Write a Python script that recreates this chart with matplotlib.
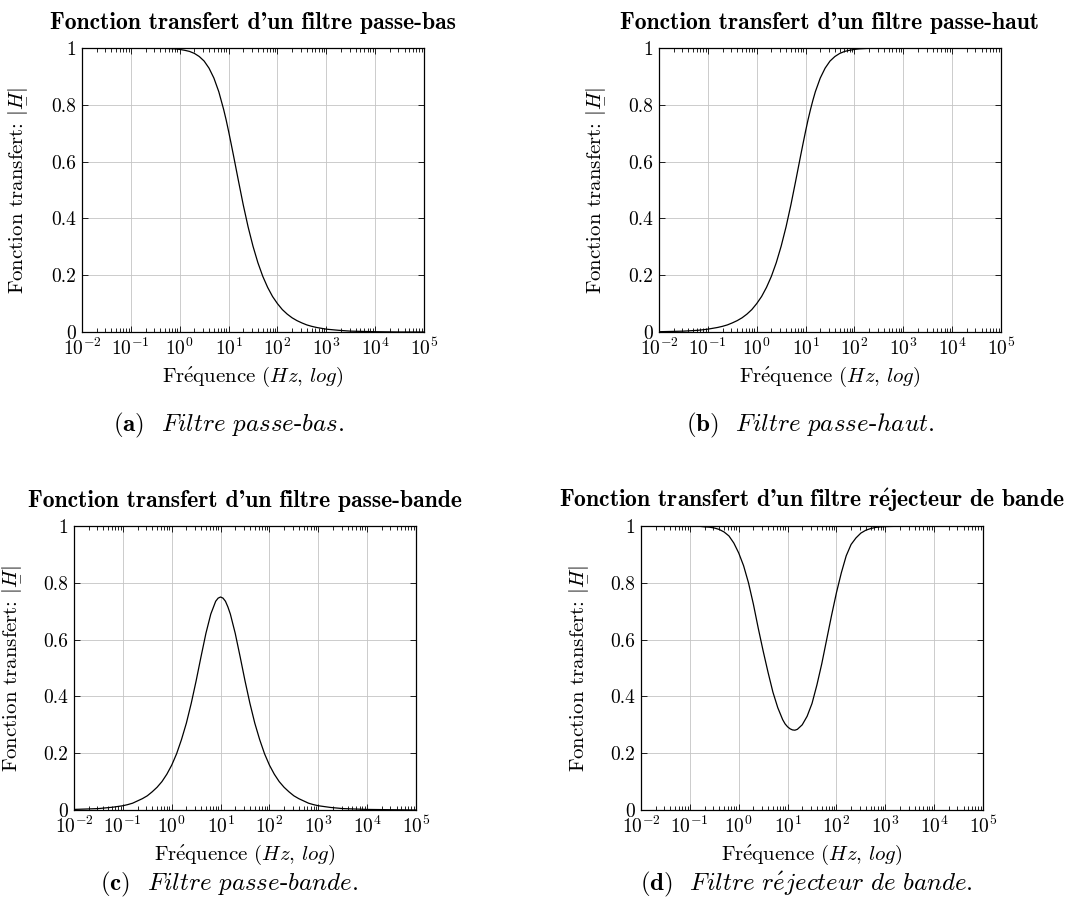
import numpy as np
import matplotlib.pyplot as plt
from matplotlib.ticker import FixedLocator, FixedFormatter, LogLocator, NullFormatter, NullLocator

plt.rcParams['font.family'] = ['cmr10', 'DejaVu Serif']
plt.rcParams['mathtext.fontset'] = 'cm'
plt.rcParams['axes.unicode_minus'] = False
plt.rcParams['axes.formatter.use_mathtext'] = True

# frequences (exposants de 10) et |H|
freq_exp = [-2.0, -1.5, -1.2, -1.0, -0.9, -0.8, -0.7, -0.6, -0.5, -0.4, -0.3, -0.2, -0.1,
            0.0, 0.1, 0.2, 0.3, 0.4, 0.5, 0.6, 0.7, 0.8, 0.9, 0.95,
            1.0, 1.05, 1.1, 1.15, 1.2, 1.3, 1.4, 1.5, 1.6, 1.7, 1.8, 1.9,
            2.0, 2.1, 2.2, 2.3, 2.4, 2.5, 2.6, 2.7, 2.8, 2.9, 3.0, 3.25, 3.5, 4.0, 4.5, 5.0]

h_bas = [1.000, 1.000, 1.000, 1.000, 1.000, 1.000, 1.000, 1.000, 0.999, 0.999, 0.999, 0.998, 0.997,
         0.995, 0.992, 0.988, 0.981, 0.970, 0.954, 0.929, 0.894, 0.846, 0.783, 0.747,
         0.707, 0.665, 0.622, 0.578, 0.534, 0.448, 0.370, 0.302, 0.244, 0.196, 0.157, 0.125,
         0.100, 0.079, 0.063, 0.050, 0.040, 0.032, 0.025, 0.020, 0.016, 0.013, 0.010, 0.006, 0.003, 0.001, 0.000, 0.000]

h_haut = [0.001, 0.003, 0.006, 0.010, 0.013, 0.016, 0.020, 0.025, 0.032, 0.040, 0.050, 0.063, 0.079,
          0.100, 0.125, 0.157, 0.196, 0.244, 0.302, 0.370, 0.448, 0.534, 0.622, 0.665,
          0.707, 0.747, 0.783, 0.816, 0.846, 0.894, 0.929, 0.954, 0.970, 0.981, 0.988, 0.992,
          0.995, 0.997, 0.998, 0.999, 0.999, 0.999, 1.000, 1.000, 1.000, 1.000, 1.000, 1.000, 1.000, 1.000, 1.000, 1.000]

h_bande = [0.002, 0.005, 0.010, 0.015, 0.019, 0.024, 0.032, 0.040, 0.050, 0.064, 0.080, 0.100, 0.126,
           0.158, 0.198, 0.248, 0.306, 0.376, 0.455, 0.540, 0.622, 0.690, 0.735, 0.746,
           0.750, 0.746, 0.735, 0.715, 0.690, 0.622, 0.540, 0.455, 0.376, 0.306, 0.248, 0.198,
           0.158, 0.126, 0.100, 0.080, 0.064, 0.050, 0.040, 0.032, 0.024, 0.019, 0.015, 0.009, 0.005, 0.002, 0.001, 0.000]

h_rejet = [1.000, 1.000, 1.000, 1.000, 0.999, 0.999, 0.997, 0.996, 0.993, 0.988, 0.979, 0.965, 0.940,
           0.905, 0.860, 0.800, 0.725, 0.640, 0.560, 0.485, 0.415, 0.360, 0.318, 0.303,
           0.293, 0.286, 0.282, 0.281, 0.284, 0.300, 0.330, 0.375, 0.440, 0.515, 0.600, 0.685,
           0.765, 0.835, 0.895, 0.935, 0.958, 0.975, 0.985, 0.991, 0.995, 0.997, 0.998, 0.999, 1.000, 1.000, 1.000, 1.000]

titles = ["Fonction transfert d'un filtre passe-bas",
          "Fonction transfert d'un filtre passe-haut",
          "Fonction transfert d'un filtre passe-bande",
          r"Fonction transfert d'un filtre r$\mathbf{\acute{e}}$jecteur de bande"]
captions = [r'$\mathbf{(a)}$  $\mathit{Filtre\ passe}$-$\mathit{bas.}$',
            r'$\mathbf{(b)}$  $\mathit{Filtre\ passe}$-$\mathit{haut.}$',
            r'$\mathbf{(c)}$  $\mathit{Filtre\ passe}$-$\mathit{bande.}$',
            r'$\mathbf{(d)}$  $\mathit{Filtre\ r\acute{e}jecteur\ de\ bande.}$']

x_ticks = [1e-2, 1e-1, 1e0, 1e1, 1e2, 1e3, 1e4, 1e5]
x_labels = [r'$10^{-2}$', r'$10^{-1}$', r'$10^{0}$', r'$10^{1}$',
            r'$10^{2}$', r'$10^{3}$', r'$10^{4}$', r'$10^{5}$']
y_ticks = [0, 0.2, 0.4, 0.6, 0.8, 1]
y_labels = ['0', '0.2', '0.4', '0.6', '0.8', '1']

freq = 10 ** np.array(freq_exp)
series = [h_bas, h_haut, h_bande, h_rejet]

fig = plt.figure(figsize=(10.67, 9.18), dpi=100)
W, H = 1067, 918
boxes = [(82, 48), (659, 48), (74, 526), (641, 526)]  # coin haut-gauche en px
cap_pos = [(229, 425), (810, 425), (229, 884), (806, 884)]
ylab_x = [-0.161, -0.158, -0.155, -0.155]

for i in range(4):
    x0, y0 = boxes[i]
    ax = fig.add_axes([x0 / W, 1 - (y0 + 284) / H, 342 / W, 284 / H])
    ax.plot(freq, series[i], color='k', lw=0.9, zorder=3)
    ax.set_xscale('log')
    ax.set_xlim(1e-2, 1e5)
    ax.set_ylim(0, 1)
    ax.xaxis.set_major_locator(FixedLocator(x_ticks))
    ax.xaxis.set_major_formatter(FixedFormatter(x_labels))
    ax.xaxis.set_minor_locator(LogLocator(base=10, subs=range(2, 10), numticks=20))
    ax.xaxis.set_minor_formatter(NullFormatter())
    ax.yaxis.set_major_locator(FixedLocator(y_ticks))
    ax.yaxis.set_major_formatter(FixedFormatter(y_labels))
    ax.yaxis.set_minor_locator(NullLocator())
    ax.tick_params(which='both', direction='in', top=True, right=True, width=0.6)
    ax.tick_params(which='major', length=4.5, labelsize=14, pad=4)
    ax.tick_params(which='minor', length=2.8)
    ax.grid(True, which='major', color='#c4c4c4', lw=0.6, zorder=0)
    for s in ax.spines.values():
        s.set_linewidth(0.9)
    ax.set_title(titles[i], fontfamily='cmb10', fontsize=17, pad=14)
    ax.set_xlabel(r'Fr$\mathrm{\acute{e}}$quence ($Hz$, $log$)', fontsize=15)
    ax.set_ylabel(r'Fonction transfert: $|\underset{-}{H}|$', fontsize=15)
    ax.yaxis.set_label_coords(ylab_x[i], 0.5)
    ax.xaxis.set_label_coords(0.5, -0.116)
    cx, cy = cap_pos[i]
    fig.text(cx / W, 1 - cy / H, captions[i], ha='center', va='center', fontsize=18)

fig.savefig('out.png', dpi=100)
